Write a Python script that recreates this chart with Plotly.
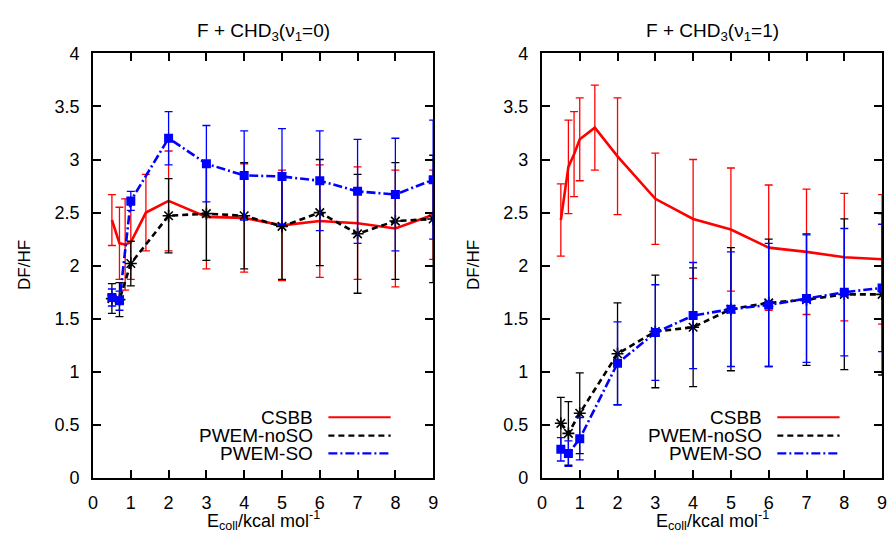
import plotly.graph_objects as go

# ---------------- data ----------------
E_csbb = [0.5, 0.7, 0.85, 1.0, 1.4, 2, 3, 4, 5, 6, 7, 8, 9]
E_pwem = [0.5, 0.7, 1.0, 2, 3, 4, 5, 6, 7, 8, 9]

# v1 = 0 panel
csbb_v0 = [2.43, 2.21, 2.20, 2.22, 2.50, 2.61, 2.46, 2.45, 2.38, 2.42, 2.40, 2.35, 2.48]
csbb_v0_err = [0.24, 0.34, 0.43, 0.35, 0.36, 0.47, 0.49, 0.51, 0.52, 0.53, 0.53, 0.55, 0.42]
noso_v0 = [1.69, 1.68, 2.02, 2.47, 2.49, 2.47, 2.37, 2.50, 2.30, 2.42, 2.44]
noso_v0_err = [0.14, 0.16, 0.21, 0.35, 0.44, 0.50, 0.50, 0.50, 0.56, 0.55, 0.60]
so_v0 = [1.70, 1.67, 2.61, 3.20, 2.96, 2.85, 2.84, 2.80, 2.70, 2.67, 2.81]
so_v0_err = [0.08, 0.09, 0.09, 0.25, 0.36, 0.42, 0.45, 0.47, 0.49, 0.53, 0.56]

# v1 = 1 panel
csbb_v1 = [2.43, 2.93, 3.05, 3.19, 3.30, 3.03, 2.63, 2.44, 2.34, 2.17, 2.13, 2.08, 2.06]
csbb_v1_err = [0.34, 0.44, 0.40, 0.39, 0.40, 0.55, 0.43, 0.56, 0.58, 0.59, 0.59, 0.60, 0.61]
noso_v1 = [0.515, 0.42, 0.61, 1.17, 1.38, 1.42, 1.59, 1.65, 1.68, 1.73, 1.73]
noso_v1_err = [0.245, 0.30, 0.38, 0.48, 0.53, 0.56, 0.58, 0.60, 0.62, 0.71, 0.76]
so_v1 = [0.27, 0.23, 0.37, 1.08, 1.37, 1.53, 1.59, 1.63, 1.69, 1.75, 1.79]
so_v1_err = [0.11, 0.12, 0.20, 0.39, 0.45, 0.50, 0.54, 0.58, 0.60, 0.60, 0.60]

series_names = ["CSBB", "PWEM-noSO", "PWEM-SO"]
panel_titles = ["F + CHD<sub>3</sub>(ν<sub>1</sub>=0)", "F + CHD<sub>3</sub>(ν<sub>1</sub>=1)"]
x_title = "E<sub>coll</sub>/kcal mol<sup>-1</sup>"
y_title = "DF/HF"

# ---------------- styles ----------------
FONT = "Liberation Sans, Arial, sans-serif"
RED, BLACK, BLUE = "#ff0000", "#000000", "#0000ff"
DASH_BLACK = "6px,4px"
DASH_BLUE = "9px,3px,2px,3px"

styles = [
    dict(color=RED, dash="solid", mode="lines", marker=None),
    dict(color=BLACK, dash=DASH_BLACK, mode="lines+markers",
         marker=dict(symbol="asterisk-open", size=10, line=dict(color=BLACK, width=1.6))),
    dict(color=BLUE, dash=DASH_BLUE, mode="lines+markers",
         marker=dict(symbol="square", size=9, color=BLUE)),
]

panels = [
    [(E_csbb, csbb_v0, csbb_v0_err), (E_pwem, noso_v0, noso_v0_err), (E_pwem, so_v0, so_v0_err)],
    [(E_csbb, csbb_v1, csbb_v1_err), (E_pwem, noso_v1, noso_v1_err), (E_pwem, so_v1, so_v1_err)],
]

fig = go.Figure()
for p, data in enumerate(panels):
    xa = "x" if p == 0 else "x2"
    ya = "y" if p == 0 else "y2"
    for s, (xs, ys, es) in enumerate(data):
        st = styles[s]
        kw = dict(
            x=xs, y=ys, mode=st["mode"], name=series_names[s], showlegend=False,
            xaxis=xa, yaxis=ya, hoverinfo="skip",
            line=dict(color=st["color"], width=2.6, dash=st["dash"]),
            error_y=dict(type="data", array=es, visible=True, color=st["color"],
                         thickness=1.3, width=4),
        )
        if st["marker"] is not None:
            kw["marker"] = st["marker"]
        fig.add_trace(go.Scatter(**kw))

x_domains = [[89 / 896, 433 / 896], [543 / 896, 887 / 896]]
y_domain = [1 - 486 / 540, 1 - 45 / 540]

axis_common = dict(
    showline=True, linecolor="black", linewidth=2, mirror="ticks",
    ticks="inside", ticklen=8, tickwidth=2, tickcolor="black",
    showgrid=False, zeroline=False,
    tickfont=dict(family=FONT, size=18, color="black"),
)

layout = dict(
    width=896, height=540,
    margin=dict(l=0, r=0, t=0, b=0),
    paper_bgcolor="white", plot_bgcolor="white",
    font=dict(family=FONT, color="black"),
    showlegend=False,
)
for p in range(2):
    sx = "" if p == 0 else "2"
    layout["xaxis" + sx] = dict(axis_common, domain=x_domains[p], range=[0, 9], dtick=1,
                                tick0=0, anchor="y" + sx, ticklabelstandoff=7)
    layout["yaxis" + sx] = dict(axis_common, domain=y_domain, range=[0, 4], dtick=0.5,
                                tick0=0, anchor="x" + sx, ticklabelstandoff=8)
fig.update_layout(**layout)

# titles and axis titles
for p in range(2):
    cx = (x_domains[p][0] + x_domains[p][1]) / 2
    fig.add_annotation(text=panel_titles[p], xref="paper", yref="paper", x=cx, y=1 - 23 / 540,
                       showarrow=False, font=dict(family=FONT, size=19), xanchor="center",
                       yanchor="middle")
    fig.add_annotation(text=x_title, xref="paper", yref="paper", x=cx, y=1 - 530 / 540,
                       showarrow=False, font=dict(family=FONT, size=18), xanchor="center",
                       yanchor="middle")
    fig.add_annotation(text=y_title, xref="paper", yref="paper",
                       x=(x_domains[p][0] * 896 - 70) / 896, y=1 - 265 / 540,
                       showarrow=False, textangle=-90, font=dict(family=FONT, size=17),
                       xanchor="center", yanchor="middle")

# legends (text left, sample right, as in the reference)
legend_rows = [0.143, 0.100, 0.058]
for p in range(2):
    sx = "" if p == 0 else "2"
    for s in range(3):
        st = styles[s]
        fig.add_annotation(text=series_names[s], xref="x" + sx + " domain", yref="y" + sx + " domain",
                           x=0.652, y=legend_rows[s], showarrow=False, xanchor="right",
                           yanchor="middle", font=dict(family=FONT, size=19))
        fig.add_shape(type="line", xref="x" + sx + " domain", yref="y" + sx + " domain",
                      x0=0.692, x1=0.875, y0=legend_rows[s], y1=legend_rows[s],
                      line=dict(color=st["color"], width=2.2, dash=st["dash"]))

post = (
    "document.documentElement.style.margin='0';"
    "document.body.style.margin='0';document.body.style.padding='0';"
    "document.body.style.overflow='hidden';"
    "var gd=document.getElementById('{plot_id}');"
    "gd.style.position='fixed';gd.style.left='0px';gd.style.top='0px';"
)
fig.write_html("out.html", config={"displayModeBar": False, "responsive": False},
               post_script=post)
